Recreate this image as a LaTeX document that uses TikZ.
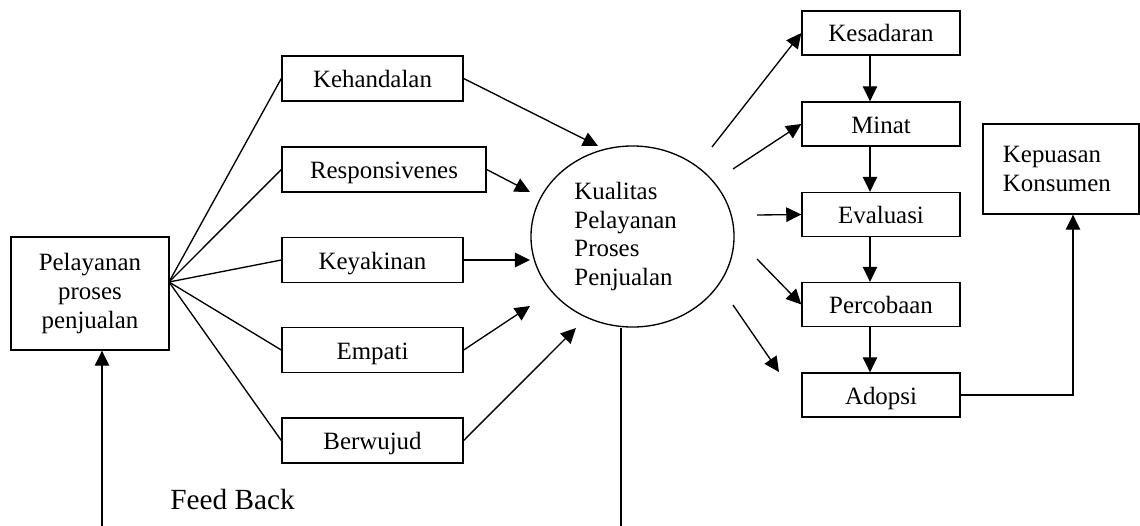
\documentclass[tikz,border=0pt]{standalone}
\usepackage{fontspec}
\setmainfont{Liberation Serif}
\usetikzlibrary{shapes.geometric,arrows.meta}

\begin{document}
\begin{tikzpicture}[x=0.025cm,y=-0.025cm,line width=0.95pt,
        font=\fontsize{17.7}{20.5}\selectfont,
        kotak/.style={draw,inner sep=0pt,text height=12.8pt,text depth=0pt,minimum height=1.125cm},
        panah/.style={-{Triangle[length=10.7pt,width=10.3pt]}}]
        \useasboundingbox (0,0) rectangle (1140,526);
        \node[draw,align=center,minimum width=3.95cm,minimum height=2.825cm] (L) at (90,293.5) {Pelayanan\\proses\\penjualan};
        \node[kotak,minimum width=4.525cm] (D1) at (372.5,78.5) {Kehandalan};
        \node[kotak,minimum width=5.1cm] (D2) at (384,169.5) {Responsivenes};
        \node[kotak,minimum width=4.525cm] (D3) at (372.5,260) {Keyakinan};
        \node[kotak,minimum width=4.525cm] (D4) at (372.5,350) {Empati};
        \node[kotak,minimum width=4.525cm] (D5) at (372.5,440.5) {Berwujud};
        \node[draw,ellipse,inner sep=0pt,minimum width=5.075cm,minimum height=4.525cm,text width=2.9cm,align=left] (Q) at (632.5,236.5) {Kualitas\\Pelayanan\\Proses\\Penjualan};
        \node[kotak,minimum width=3.95cm,minimum height=1.1cm] (T1) at (881,33) {Kesadaran};
        \node[kotak,minimum width=3.95cm,minimum height=1.1cm] (T2) at (881,124) {Minat};
        \node[kotak,minimum width=3.95cm,minimum height=1.1cm] (T3) at (881,214.5) {Evaluasi};
        \node[kotak,minimum width=3.95cm,minimum height=1.1cm] (T4) at (881,304.5) {Percobaan};
        \node[kotak,minimum width=3.95cm,minimum height=1.1cm] (T5) at (881,395) {Adopsi};
        \node[draw,minimum height=2.25cm,text width=2.9cm,inner xsep=0.5cm,align=left] (K) at (1061,169) {Kepuasan\\Konsumen};
        \node[anchor=base,font=\fontsize{20.8}{24}\selectfont] (FB) at (232.5,509) {Feed Back};
        \coordinate (fan) at (169,282);
        \coordinate (m1) at (598,146);
        \coordinate (m2) at (530,192);
        \coordinate (m3) at (530,260);
        \coordinate (m4) at (530,306);
        \coordinate (m5) at (576,328);
        \coordinate (s1) at (712,147);
        \coordinate (s2) at (733,169);
        \coordinate (s3) at (757,215);
        \coordinate (s4) at (757,259);
        \coordinate (s5) at (733,305);
        \coordinate (e5) at (779,372);
        \coordinate (fbL) at (102,526);
        \coordinate (fbR) at (621,526);
        \path
        (fan) edge (D1.west)
        (fan) edge (D2.west)
        (fan) edge (D3.west)
        (fan) edge (D4.west)
        (fan) edge (D5.west);
        \path[panah]
        (D1.east) edge (m1)
        (D2.east) edge (m2)
        (D3.east) edge (m3)
        (D4.east) edge (m4)
        (D5.east) edge (m5);
        \path[panah]
        (s1) edge (T1.west)
        (s2) edge (T2.west)
        (s3) edge (T3.west)
        (s4) edge (T4.west)
        (s5) edge (e5);
        \path[panah]
        ([xshift=-0.275cm]T1.south) edge ([xshift=-0.275cm]T2.north)
        ([xshift=-0.275cm]T2.south) edge ([xshift=-0.275cm]T3.north)
        ([xshift=-0.275cm]T3.south) edge ([xshift=-0.275cm]T4.north)
        ([xshift=-0.275cm]T4.south) edge ([xshift=-0.275cm]T5.north);
        \draw[panah] (T5.east) -| ([xshift=0.3cm]K.south);
        \draw (fbR |- Q.south) -- (fbR);
        \draw[panah] (fbL) -- (fbL |- L.south);
    \end{tikzpicture}
\end{document}
